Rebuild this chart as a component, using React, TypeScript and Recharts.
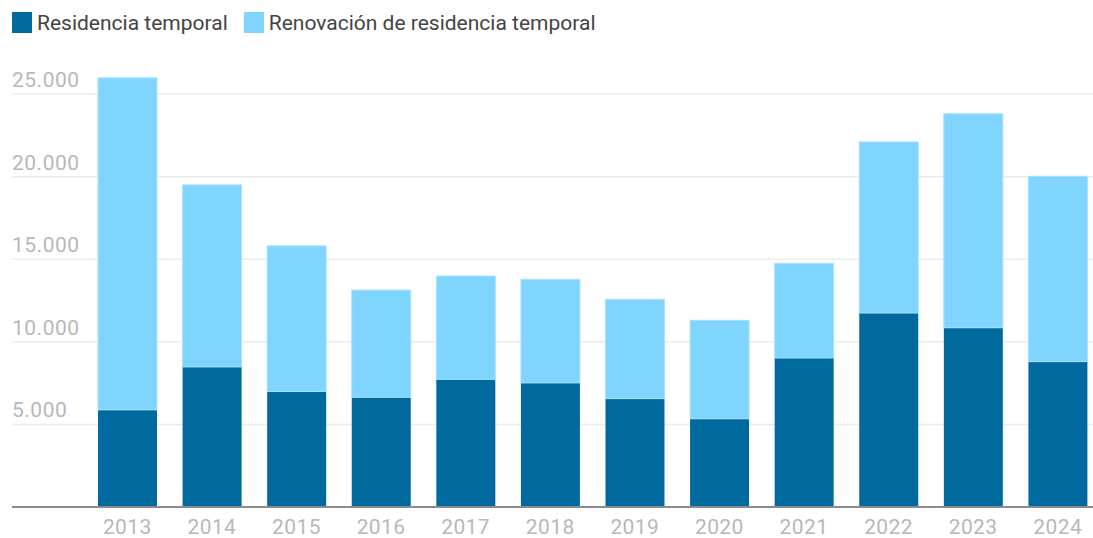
import React from 'react';
import { BarChart, Bar, XAxis, YAxis, CartesianGrid, Legend } from 'recharts';

const years = ['2013', '2014', '2015', '2016', '2017', '2018', '2019', '2020', '2021', '2022', '2023', '2024'];
const temporal = [5880, 8480, 6990, 6640, 7730, 7510, 6560, 5340, 9020, 11740, 10850, 8800];
const renovacion = [20100, 11020, 8820, 6490, 6250, 6270, 6010, 5960, 5730, 10360, 12950, 11220];
const yTicks = [5000, 10000, 15000, 20000, 25000];

const DARK = '#006a9f';
const LIGHT = '#80d5ff';
const FONT = 'Roboto, "Liberation Sans", sans-serif';
const TICK_COLOR = '#b8b8b8';

const data = years.map((year, i) => ({
  year,
  temporal: temporal[i],
  renovacion: renovacion[i],
}));

const legendItems = [
  { label: 'Residencia temporal', color: DARK },
  { label: 'Renovación de residencia temporal', color: LIGHT },
];

const LegendBox = () => (
  <div style={{ display: 'flex', alignItems: 'center', height: 45, fontFamily: FONT, fontSize: 21, color: '#444' }}>
    {legendItems.map((it) => (
      <div key={it.label} style={{ display: 'flex', alignItems: 'center', marginRight: 16 }}>
        <span style={{ display: 'inline-block', width: 20, height: 21, background: it.color, marginRight: 5 }} />
        <span>{it.label}</span>
      </div>
    ))}
  </div>
);

const YTick = (props: any) => {
  const { y, payload } = props;
  return (
    <text x={12} y={y - 7} textAnchor="start" fontFamily={FONT} fontSize={21} letterSpacing={0.5} fill={TICK_COLOR}>
      {payload.value.toLocaleString('de-DE')}
    </text>
  );
};

const XTick = (props: any) => {
  const { x, y, payload } = props;
  return (
    <text x={x} y={y + 19} textAnchor="middle" fontFamily={FONT} fontSize={21} letterSpacing={0.4} fill={TICK_COLOR}>
      {payload.value}
    </text>
  );
};

const App = () => (
  <div style={{ position: 'absolute', left: 0, top: 0, width: 1093, height: 538, overflow: 'hidden', background: '#fff' }}>
    <BarChart
      width={1100}
      height={538}
      data={data}
      margin={{ top: 16, right: 0, left: 0, bottom: 0 }}
      barSize={59}
    >
      <Legend
        verticalAlign="top"
        align="left"
        content={<LegendBox />}
        wrapperStyle={{ top: 0, left: 12, height: 45 }}
      />
      <CartesianGrid vertical={false} stroke="#ebebeb" strokeWidth={1.5} syncWithTicks />
      <XAxis
        dataKey="year"
        padding={{ left: 73, right: 0 }}
        height={31}
        tickLine={false}
        axisLine={{ stroke: '#8c8c8c', strokeWidth: 2 }}
        tick={<XTick />}
      />
      <YAxis
        width={12}
        domain={[0, 27000]}
        ticks={yTicks}
        axisLine={false}
        tickLine={false}
        tick={<YTick />}
      />
      <Bar dataKey="temporal" stackId="a" fill={DARK} isAnimationActive={false} />
      <Bar dataKey="renovacion" stackId="a" fill={LIGHT} stroke="#a6e1ff" strokeWidth={1} isAnimationActive={false} />
    </BarChart>
  </div>
);

export default App;
